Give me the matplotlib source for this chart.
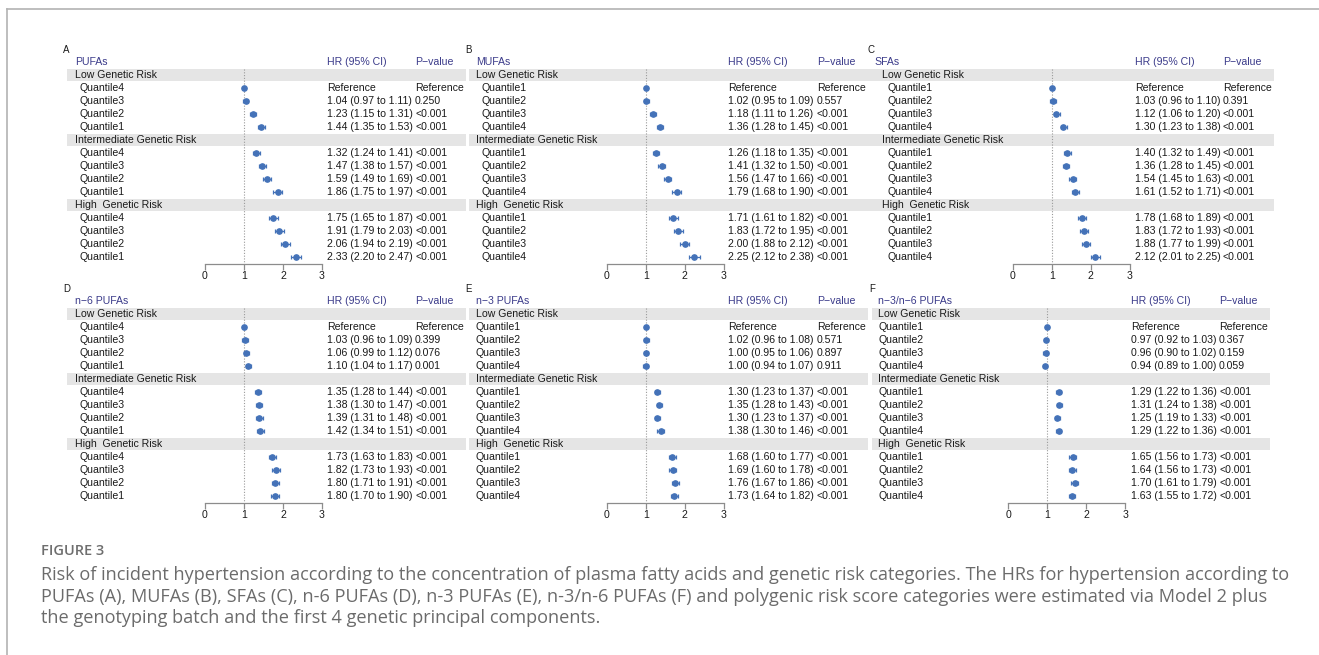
import matplotlib
matplotlib.use("Agg")
import matplotlib.pyplot as plt
from matplotlib.patches import Rectangle
from matplotlib.lines import Line2D
import numpy as np

W, H = 1319, 655
DPI = 100

# ---------------- data ----------------
groups = ["Low Genetic Risk", "Intermediate Genetic Risk", "High  Genetic Risk"]
q_desc = ["Quantile4", "Quantile3", "Quantile2", "Quantile1"]
q_asc = ["Quantile1", "Quantile2", "Quantile3", "Quantile4"]

titles = ["PUFAs", "MUFAs", "SFAs", "n\u22126 PUFAs", "n\u22123 PUFAs", "n\u22123/n\u22126 PUFAs"]
letters = ["A", "B", "C", "D", "E", "F"]
quantile_labels = [q_desc, q_asc, q_asc, q_desc, q_asc, q_asc]

pufa_hr = [1.00, 1.04, 1.23, 1.44, 1.32, 1.47, 1.59, 1.86, 1.75, 1.91, 2.06, 2.33]
pufa_lo = [1.00, 0.97, 1.15, 1.35, 1.24, 1.38, 1.49, 1.75, 1.65, 1.79, 1.94, 2.20]
pufa_hi = [1.00, 1.11, 1.31, 1.53, 1.41, 1.57, 1.69, 1.97, 1.87, 2.03, 2.19, 2.47]
pufa_p = ["Reference", "0.250", "<0.001", "<0.001"] + ["<0.001"] * 8

mufa_hr = [1.00, 1.02, 1.18, 1.36, 1.26, 1.41, 1.56, 1.79, 1.71, 1.83, 2.00, 2.25]
mufa_lo = [1.00, 0.95, 1.11, 1.28, 1.18, 1.32, 1.47, 1.68, 1.61, 1.72, 1.88, 2.12]
mufa_hi = [1.00, 1.09, 1.26, 1.45, 1.35, 1.50, 1.66, 1.90, 1.82, 1.95, 2.12, 2.38]
mufa_p = ["Reference", "0.557", "<0.001", "<0.001"] + ["<0.001"] * 8

sfa_hr = [1.00, 1.03, 1.12, 1.30, 1.40, 1.36, 1.54, 1.61, 1.78, 1.83, 1.88, 2.12]
sfa_lo = [1.00, 0.96, 1.06, 1.23, 1.32, 1.28, 1.45, 1.52, 1.68, 1.72, 1.77, 2.01]
sfa_hi = [1.00, 1.10, 1.20, 1.38, 1.49, 1.45, 1.63, 1.71, 1.89, 1.93, 1.99, 2.25]
sfa_p = ["Reference", "0.391", "<0.001", "<0.001"] + ["<0.001"] * 8

n6_hr = [1.00, 1.03, 1.06, 1.10, 1.35, 1.38, 1.39, 1.42, 1.73, 1.82, 1.80, 1.80]
n6_lo = [1.00, 0.96, 0.99, 1.04, 1.28, 1.30, 1.31, 1.34, 1.63, 1.73, 1.71, 1.70]
n6_hi = [1.00, 1.09, 1.12, 1.17, 1.44, 1.47, 1.48, 1.51, 1.83, 1.93, 1.91, 1.90]
n6_p = ["Reference", "0.399", "0.076", "0.001"] + ["<0.001"] * 8

n3_hr = [1.00, 1.02, 1.00, 1.00, 1.30, 1.35, 1.30, 1.38, 1.68, 1.69, 1.76, 1.73]
n3_lo = [1.00, 0.96, 0.95, 0.94, 1.23, 1.28, 1.23, 1.30, 1.60, 1.60, 1.67, 1.64]
n3_hi = [1.00, 1.08, 1.06, 1.07, 1.37, 1.43, 1.37, 1.46, 1.77, 1.78, 1.86, 1.82]
n3_p = ["Reference", "0.571", "0.897", "0.911"] + ["<0.001"] * 8

ratio_hr = [1.00, 0.97, 0.96, 0.94, 1.29, 1.31, 1.25, 1.29, 1.65, 1.64, 1.70, 1.63]
ratio_lo = [1.00, 0.92, 0.90, 0.89, 1.22, 1.24, 1.19, 1.22, 1.56, 1.56, 1.61, 1.55]
ratio_hi = [1.00, 1.03, 1.02, 1.00, 1.36, 1.38, 1.33, 1.36, 1.73, 1.73, 1.79, 1.72]
ratio_p = ["Reference", "0.367", "0.159", "0.059"] + ["<0.001"] * 8

all_hr = [pufa_hr, mufa_hr, sfa_hr, n6_hr, n3_hr, ratio_hr]
all_lo = [pufa_lo, mufa_lo, sfa_lo, n6_lo, n3_lo, ratio_lo]
all_hi = [pufa_hi, mufa_hi, sfa_hi, n6_hi, n3_hi, ratio_hi]
all_p = [pufa_p, mufa_p, sfa_p, n6_p, n3_p, ratio_p]

x_ticks = [0, 1, 2, 3]

caption_head = "FIGURE 3"
caption_lines = [
    "Risk of incident hypertension according to the concentration of plasma fatty acids and genetic risk categories. The HRs for hypertension according to",
    "PUFAs (A), MUFAs (B), SFAs (C), n-6 PUFAs (D), n-3 PUFAs (E), n-3/n-6 PUFAs (F) and polygenic risk score categories were estimated via Model 2 plus",
    "the genotyping batch and the first 4 genetic principal components.",
]

# ---------------- layout (pixels) ----------------
layout = [
    dict(b0=67, b1=466, x0=205.0, lx=63, tx=75, gx=75, qx=80, hx=327, px=415, y0=62),
    dict(b0=469, b1=866, x0=606.7, lx=465, tx=476, gx=476, qx=481.7, hx=728.3, px=816.7, y0=62),
    dict(b0=866, b1=1274, x0=1012.7, lx=867, tx=874, gx=882, qx=888, hx=1135, px=1222.7, y0=62),
    dict(b0=67, b1=466, x0=205.0, lx=63, tx=75, gx=75, qx=80, hx=327, px=415, y0=301),
    dict(b0=469, b1=868, x0=606.7, lx=465, tx=476, gx=476, qx=476, hx=728.3, px=816.7, y0=301),
    dict(b0=872, b1=1270, x0=1008.3, lx=869, tx=878.3, gx=878.3, qx=878.3, hx=1130.7, px=1219, y0=301),
]
SCALE = 39.0   # px per HR unit
ROWH = 13.0    # px per row

FONT = "Liberation Sans"
FS = 7.6
TXT = "#1a1a1a"
HEAD = "#3b3b8a"
PT = "#4472b8"
BAND = "#e5e5e5"
AXC = "#8c8c8c"

fig = plt.figure(figsize=(W / DPI, H / DPI), dpi=DPI)
fig.patch.set_facecolor("white")

bg = fig.add_axes([0, 0, 1, 1])
bg.set_xlim(0, W)
bg.set_ylim(H, 0)
bg.axis("off")
bg.add_line(Line2D([7, W], [9, 9], color="#b3b3b3", lw=1.2))
bg.add_line(Line2D([7, 7], [9, H], color="#b3b3b3", lw=1.2))

r_top = -1.6
r_bot = 15.5
for i in range(6):
    L = layout[i]
    y_top_px = L["y0"] + ROWH * r_top
    y_bot_px = L["y0"] + ROWH * r_bot
    ax = fig.add_axes([L["x0"] / W, 1 - y_bot_px / H, 3 * SCALE / W, (y_bot_px - y_top_px) / H])
    ax.set_xlim(0, 3)
    ax.set_ylim(r_bot, r_top)
    ax.patch.set_alpha(0)
    for s in ["top", "left", "right"]:
        ax.spines[s].set_visible(False)
    ax.spines["bottom"].set_color(AXC)
    ax.spines["bottom"].set_linewidth(0.9)
    ax.set_yticks([])
    ax.set_xticks(x_ticks)
    ax.set_xticklabels([str(t) for t in x_ticks], fontsize=FS, family=FONT, color=TXT)
    ax.tick_params(axis="x", length=4, width=0.9, color=AXC, pad=1.5)

    def px2d(p, L=L):
        return (p - L["x0"]) / SCALE

    ax.text(px2d(L["lx"]), -0.9, letters[i], fontsize=FS - 0.6, family=FONT, color=TXT,
            va="center", ha="left", clip_on=False)
    ax.text(px2d(L["tx"]), 0, titles[i], fontsize=FS, family=FONT, color=HEAD,
            va="center", ha="left", clip_on=False)
    ax.text(px2d(L["hx"]), 0, "HR (95% CI)", fontsize=FS, family=FONT, color=HEAD,
            va="center", ha="left", clip_on=False)
    ax.text(px2d(L["px"]), 0, "P\u2212value", fontsize=FS, family=FONT, color=HEAD,
            va="center", ha="left", clip_on=False)

    hr = np.array(all_hr[i])
    lo = np.array(all_lo[i])
    hi = np.array(all_hi[i])
    pv = all_p[i]
    rows = []
    for g in range(3):
        gr = 1 + 5 * g
        ax.add_patch(Rectangle((px2d(L["b0"]), gr - 0.48), (L["b1"] - L["b0"]) / SCALE, 0.96,
                               facecolor=BAND, edgecolor="none", clip_on=False, zorder=0))
        ax.text(px2d(L["gx"]), gr, groups[g], fontsize=FS, family=FONT, color=TXT,
                va="center", ha="left", clip_on=False)
        for k in range(4):
            r = gr + 1 + k
            rows.append(r)
            idx = g * 4 + k
            ax.text(px2d(L["qx"]), r, quantile_labels[i][k], fontsize=FS, family=FONT, color=TXT,
                    va="center", ha="left", clip_on=False)
            if pv[idx] == "Reference":
                hrtxt = "Reference"
            else:
                hrtxt = f"{hr[idx]:.2f} ({lo[idx]:.2f} to {hi[idx]:.2f})"
            ax.text(px2d(L["hx"]), r, hrtxt, fontsize=FS, family=FONT, color=TXT,
                    va="center", ha="left", clip_on=False)
            ax.text(px2d(L["px"]), r, pv[idx], fontsize=FS, family=FONT, color=TXT,
                    va="center", ha="left", clip_on=False)

    ax.plot([1, 1], [0.55, r_bot], color="#9a9a9a", lw=0.8, ls=(0, (1, 1.5)), zorder=1)
    rows = np.array(rows)
    ax.errorbar(hr, rows, xerr=[hr - lo, hi - hr], fmt="o", ms=3.8, color=PT, ecolor=PT,
                elinewidth=0.9, capsize=1.6, capthick=0.9, zorder=3, clip_on=False)

bg.text(41, 551, caption_head, fontsize=10.5, family="Open Sans", color="#6e6e6e",
        fontweight="semibold", va="center", ha="left")
for j, line in enumerate(caption_lines):
    bg.text(41, 575 + 21.7 * j, line, fontsize=13.05, family="Open Sans", color="#6b6b6b",
            va="center", ha="left")

fig.savefig("out.png", dpi=DPI)
